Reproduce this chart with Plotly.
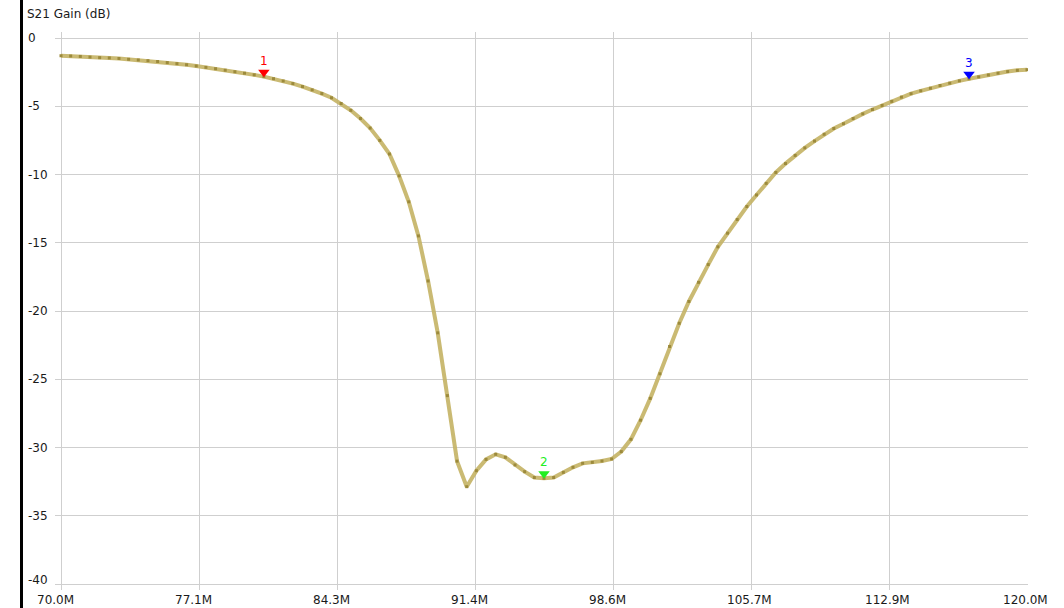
import numpy as np
import plotly.graph_objects as go

# Sweep: 70 MHz to 120 MHz in 0.5 MHz steps (101 points)
freq_mhz = [70.0 + 0.5 * k for k in range(101)]

# S21 gain in dB for each sweep point
s21_db = [
    -1.30, -1.32, -1.35, -1.40, -1.44, -1.46, -1.50, -1.56, -1.61, -1.66,
    -1.72, -1.80, -1.88, -1.96, -2.05, -2.15, -2.25, -2.36, -2.47, -2.58,
    -2.70, -2.83, -2.98, -3.15, -3.34, -3.56, -3.80, -4.07, -4.38, -4.80,
    -5.30, -5.90, -6.60, -7.50, -8.50, -10.10, -12.00, -14.50, -17.80, -21.60,
    -26.20, -31.00, -32.87, -31.70, -30.87, -30.50, -30.72, -31.28, -31.77, -32.20,
    -32.26, -32.20, -31.82, -31.45, -31.16, -31.09, -30.99, -30.84, -30.30, -29.40,
    -28.00, -26.40, -24.60, -22.60, -20.90, -19.30, -17.90, -16.60, -15.30, -14.30,
    -13.30, -12.35, -11.50, -10.65, -9.85, -9.20, -8.60, -8.05, -7.55, -7.05,
    -6.63, -6.28, -5.90, -5.56, -5.24, -4.94, -4.64, -4.33, -4.08, -3.87,
    -3.68, -3.48, -3.31, -3.14, -2.99, -2.85, -2.71, -2.58, -2.46, -2.37,
    -2.32,
]

# Frequency axis ticks (7 equal divisions of the span)
x_tick_vals = [70.0 + k * 50.0 / 7.0 for k in range(8)]
x_tick_text = ["70.0M", "77.1M", "84.3M", "91.4M", "98.6M", "105.7M", "112.9M", "120.0M"]

# Gain axis ticks
y_tick_vals = [0, -5, -10, -15, -20, -25, -30, -35, -40]
y_tick_text = ["0", "-5", "-10", "-15", "-20", "-25", "-30", "-35", "-40"]

# Markers: number, frequency, colour
marker_ids = ["1", "2", "3"]
marker_freqs = [80.5, 95.0, 117.0]
marker_colors = ["#ff0000", "#22ee22", "#0000ff"]

# Geometry
W, H = 1064, 608
L, R, T, B = 55, 36, 32, 18
plot_w = W - L - R
plot_h = H - T - B
PX_PER_MHZ = 19.32
PX_PER_DB = 13.65
x_lo = 70.0 - 6 / PX_PER_MHZ
x_hi = x_lo + plot_w / PX_PER_MHZ
y_lo = -40.0 - 6 / PX_PER_DB
y_hi = y_lo + plot_h / PX_PER_DB

FONT = "DejaVu Sans"
TXT = "#1a1a1a"

fig = go.Figure()

# Gain trace
fig.add_trace(go.Scatter(
    x=freq_mhz, y=s21_db, mode="lines",
    line=dict(color="rgba(196,178,100,0.9)", width=4),
    hoverinfo="skip", showlegend=False,
))
fig.add_trace(go.Scatter(
    x=freq_mhz, y=s21_db, mode="markers",
    marker=dict(color="#9c8a3c", size=3, symbol="square", line=dict(width=0)),
    hoverinfo="skip", showlegend=False,
))

# Marker triangles sit just above the curve
freq_arr = np.array(freq_mhz)
gain_arr = np.array(s21_db)
marker_vals = [float(np.interp(f, freq_arr, gain_arr)) for f in marker_freqs]
tri_offset = 4.5 / PX_PER_DB
fig.add_trace(go.Scatter(
    x=marker_freqs, y=[v + tri_offset for v in marker_vals], mode="markers",
    marker=dict(symbol="triangle-down", size=10, color=marker_colors, line=dict(width=0)),
    hoverinfo="skip", showlegend=False,
))

annotations = []
for mid, f, v, c in zip(marker_ids, marker_freqs, marker_vals, marker_colors):
    annotations.append(dict(
        x=f, y=v, xref="x", yref="y", text=mid, showarrow=False,
        yshift=16, font=dict(family=FONT, size=12, color=c),
    ))

# Y tick labels, left-aligned near the left border
for val, txt in zip(y_tick_vals, y_tick_text):
    annotations.append(dict(
        x=(26 - L) / plot_w, xref="paper", y=val, yref="y",
        text=txt, showarrow=False, xanchor="left", yanchor="middle",
        yshift=4 if val == -40 else 0,
        font=dict(family=FONT, size=12, color=TXT),
    ))

# X tick labels
for val, txt in zip(x_tick_vals, x_tick_text):
    annotations.append(dict(
        x=val, xref="x", y=(590 - 600) / plot_h, yref="paper",
        text=txt, showarrow=False, xanchor="left", yanchor="middle",
        xshift=-26, font=dict(family=FONT, size=12, color=TXT),
    ))

# Axis title
annotations.append(dict(
    x=(25 - L) / plot_w, xref="paper", y=1 + (T - 14.5) / plot_h, yref="paper",
    text="S21 Gain (dB)", showarrow=False, xanchor="left", yanchor="middle",
    font=dict(family=FONT, size=12, color=TXT),
))

fig.update_layout(
    width=W, height=H,
    margin=dict(l=L, r=R, t=T, b=B, pad=0),
    paper_bgcolor="white", plot_bgcolor="white",
    annotations=annotations,
    shapes=[dict(
        type="line", xref="paper", yref="paper",
        x0=(21.5 - L) / plot_w, x1=(21.5 - L) / plot_w,
        y0=-0.1, y1=1.2,
        line=dict(color="black", width=3),
    )],
)
fig.update_xaxes(
    range=[x_lo, x_hi], tickvals=x_tick_vals, showticklabels=False,
    showgrid=True, gridcolor="#cfcfcf", gridwidth=1,
    zeroline=False, showline=False, ticks="", fixedrange=True,
)
fig.update_yaxes(
    range=[y_lo, y_hi], tickvals=y_tick_vals, showticklabels=False,
    showgrid=True, gridcolor="#cfcfcf", gridwidth=1,
    zeroline=False, showline=False, ticks="", fixedrange=True,
)

fig.write_html("out.html", config={"displayModeBar": False})
